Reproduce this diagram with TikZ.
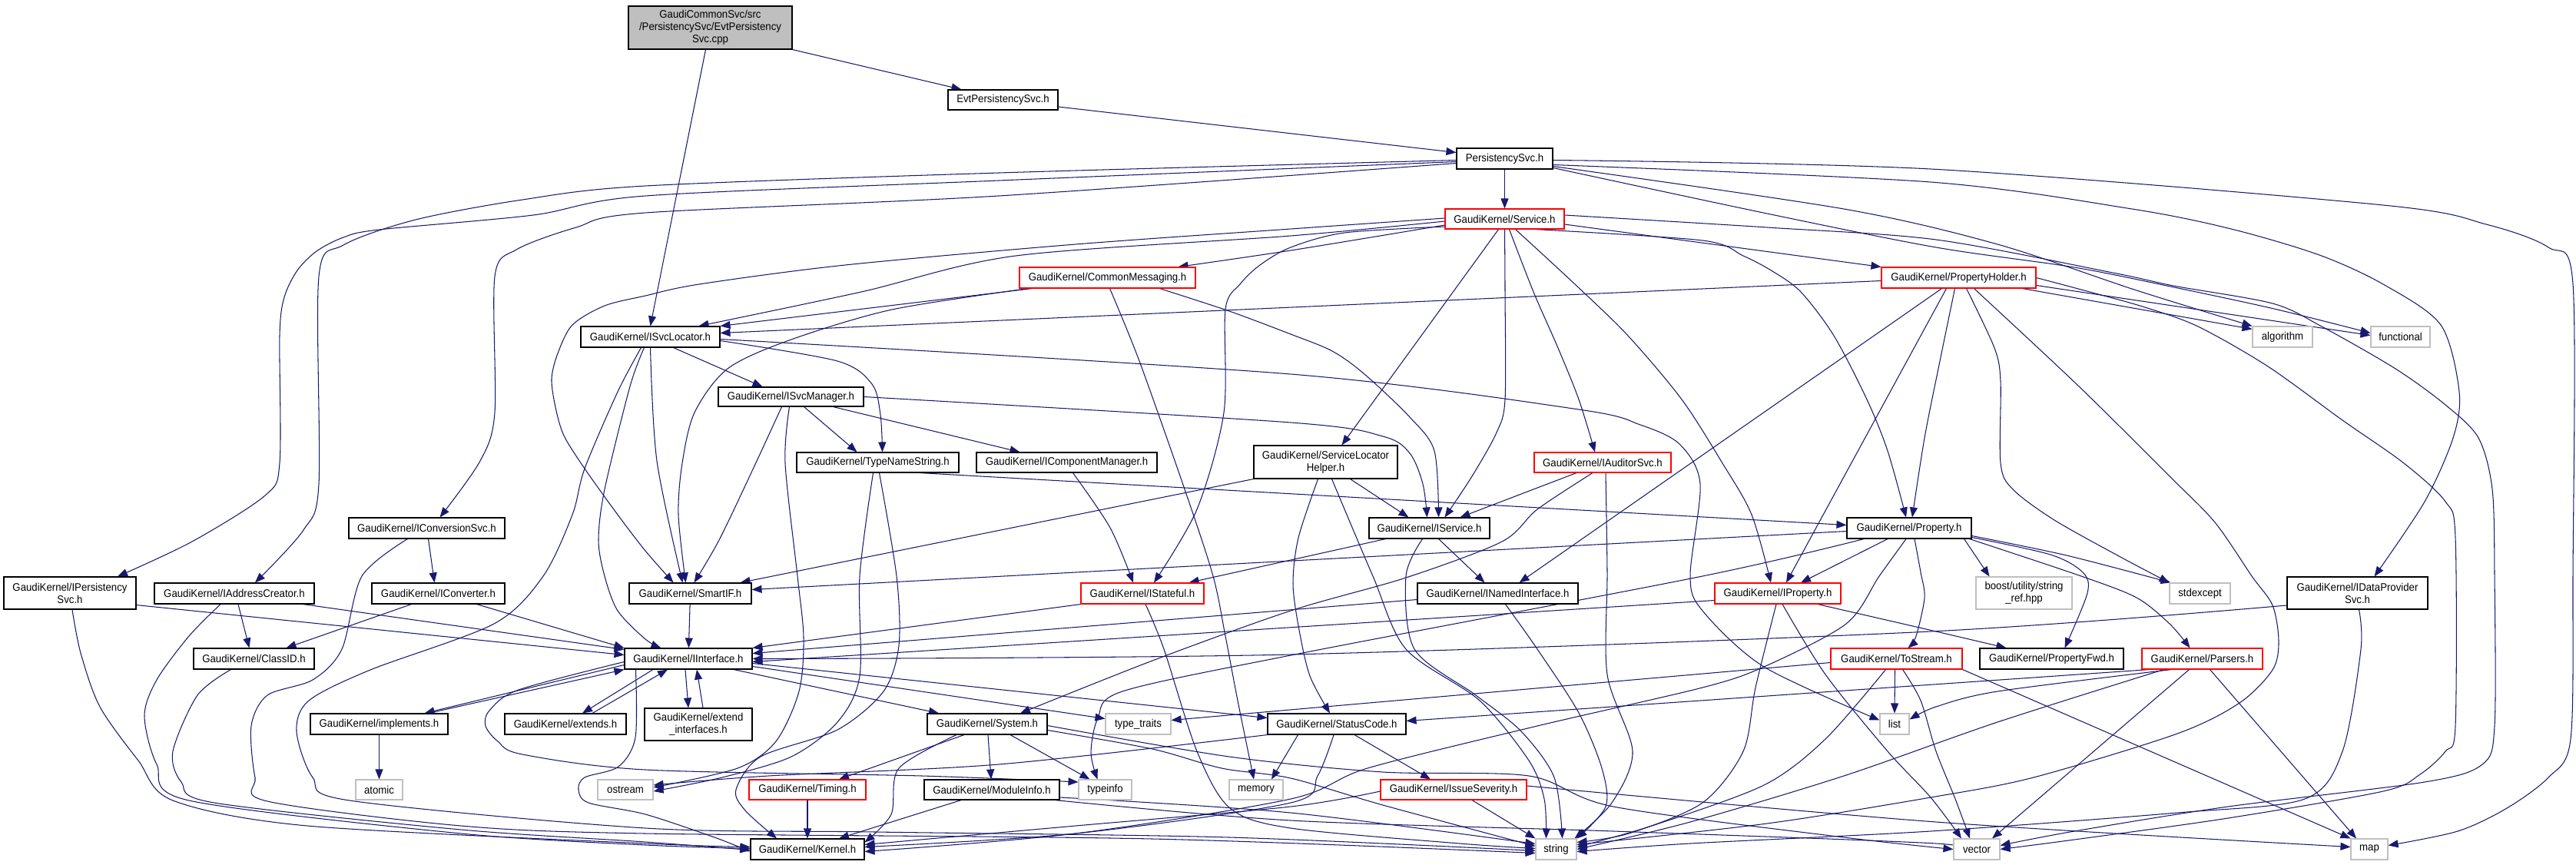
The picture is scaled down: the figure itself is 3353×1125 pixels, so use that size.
\documentclass[tikz,border=0pt]{standalone}
\usepackage{fontspec}
\setmainfont[FakeStretch=0.93]{Liberation Sans}
\usetikzlibrary{arrows.meta}
\definecolor{edgec}{HTML}{191970}
\definecolor{grayb}{HTML}{BFBFBF}
\newcommand{\lbl}{\fontsize{14.2}{16}\selectfont}
\newcommand{\mknode}[7]{\node[#6, minimum width={(#4-#2)*1pt}, minimum height={(#5-#3)*1pt}] (#1) at ({(#2+#4)/2},{(#3+#5)/2}) {#7};}
\pgfdeclarelayer{bglayer}
\pgfdeclarelayer{edgelayer}
\pgfsetlayers{bglayer,edgelayer,main}
\tikzset{
  nb/.style={draw=black, line width=1.1pt, fill=white, inner sep=0pt, align=center, font=\lbl, text=black},
  rb/.style={nb, draw=red},
  gb/.style={nb, draw=grayb},
  rootb/.style={nb, fill=grayb},
  edg/.style={draw=edgec, line width=1.05pt, -{Triangle[length=13pt,width=10pt]}},
}
\begin{document}
\begin{tikzpicture}[x=1pt,y=-1pt]
\useasboundingbox (0,0) rectangle (3353,1125);
\begin{pgfonlayer}{bglayer}
\fill[white] (0,0) rectangle (3353,1125);
\end{pgfonlayer}
% ---------------- nodes ----------------
\mknode{root}{818}{8}{1031}{64}{rootb}{GaudiCommonSvc/src\\/PersistencySvc/EvtPersistency\\Svc.cpp}
\mknode{evt}{1234}{117}{1377}{143}{nb}{EvtPersistencySvc.h}
\mknode{pers}{1896}{193}{2021}{220}{nb}{PersistencySvc.h}
\mknode{service}{1881}{272}{2036}{298}{rb}{GaudiKernel/Service.h}
\mknode{cmsg}{1327}{348}{1556}{375}{rb}{GaudiKernel/CommonMessaging.h}
\mknode{pholder}{2449}{348}{2650}{375}{rb}{GaudiKernel/PropertyHolder.h}
\mknode{isvcloc}{756}{425}{937}{452}{nb}{GaudiKernel/ISvcLocator.h}
\mknode{algorithm}{2932}{425}{3010}{452}{gb}{algorithm}
\mknode{functional}{3086}{425}{3163}{452}{gb}{functional}
\mknode{isvcmgr}{935}{504}{1124}{529}{nb}{GaudiKernel/ISvcManager.h}
\mknode{typename}{1037}{589}{1248}{615}{nb}{GaudiKernel/TypeNameString.h}
\mknode{icompmgr}{1271}{589}{1506}{615}{nb}{GaudiKernel/IComponentManager.h}
\mknode{slh}{1632}{580}{1819}{623}{nb}{GaudiKernel/ServiceLocator\\Helper.h}
\mknode{iauditor}{1997}{589}{2175}{615}{rb}{GaudiKernel/IAuditorSvc.h}
\mknode{iconvsvc}{454}{674}{657}{701}{nb}{GaudiKernel/IConversionSvc.h}
\mknode{iservice}{1782}{674}{1939}{701}{nb}{GaudiKernel/IService.h}
\mknode{property}{2404}{674}{2566}{701}{nb}{GaudiKernel/Property.h}
\mknode{ipersist}{5}{751}{177}{793}{nb}{GaudiKernel/IPersistency\\Svc.h}
\mknode{iaddr}{201}{759}{409}{786}{nb}{GaudiKernel/IAddressCreator.h}
\mknode{iconv}{484}{759}{657}{786}{nb}{GaudiKernel/IConverter.h}
\mknode{smartif}{819}{759}{978}{786}{nb}{GaudiKernel/SmartIF.h}
\mknode{istateful}{1407}{759}{1567}{786}{rb}{GaudiKernel/IStateful.h}
\mknode{inamed}{1845}{759}{2054}{786}{nb}{GaudiKernel/INamedInterface.h}
\mknode{iproperty}{2232}{759}{2396}{786}{rb}{GaudiKernel/IProperty.h}
\mknode{boostref}{2572}{751}{2697}{793}{gb}{boost/utility/string\\\_ref.hpp}
\mknode{stdexcept}{2824}{759}{2903}{786}{gb}{stdexcept}
\mknode{idataprov}{2977}{751}{3160}{793}{nb}{GaudiKernel/IDataProvider\\Svc.h}
\mknode{classid}{252}{844}{409}{871}{nb}{GaudiKernel/ClassID.h}
\mknode{iinterface}{813}{844}{979}{871}{nb}{GaudiKernel/IInterface.h}
\mknode{tostream}{2383}{844}{2554}{871}{rb}{GaudiKernel/ToStream.h}
\mknode{propfwd}{2577}{844}{2764}{871}{nb}{GaudiKernel/PropertyFwd.h}
\mknode{parsers}{2788}{844}{2945}{871}{rb}{GaudiKernel/Parsers.h}
\mknode{implements}{404}{929}{583}{956}{nb}{GaudiKernel/implements.h}
\mknode{extends}{657}{929}{815}{956}{nb}{GaudiKernel/extends.h}
\mknode{extendif}{839}{922}{979}{964}{nb}{GaudiKernel/extend\\\_interfaces.h}
\mknode{system}{1207}{929}{1363}{956}{nb}{GaudiKernel/System.h}
\mknode{typetraits}{1439}{929}{1524}{956}{gb}{type\_traits}
\mknode{statuscode}{1650}{929}{1830}{956}{nb}{GaudiKernel/StatusCode.h}
\mknode{list}{2447}{929}{2485}{956}{gb}{list}
\mknode{atomic}{463}{1015}{524}{1041}{gb}{atomic}
\mknode{ostream}{778}{1015}{850}{1041}{gb}{ostream}
\mknode{timing}{975}{1015}{1127}{1041}{rb}{GaudiKernel/Timing.h}
\mknode{moduleinfo}{1203}{1015}{1379}{1041}{nb}{GaudiKernel/ModuleInfo.h}
\mknode{typeinfo}{1404}{1015}{1473}{1041}{gb}{typeinfo}
\mknode{memory}{1600}{1015}{1670}{1041}{gb}{memory}
\mknode{issev}{1797}{1015}{1987}{1041}{rb}{GaudiKernel/IssueSeverity.h}
\mknode{kernel}{977}{1092}{1125}{1119}{nb}{GaudiKernel/Kernel.h}
\mknode{string}{1999}{1092}{2052}{1119}{gb}{string}
\mknode{vector}{2543}{1092}{2603}{1119}{gb}{vector}
\mknode{map}{3060}{1092}{3108}{1119}{gb}{map}
% ---------------- edges ----------------
\begin{pgfonlayer}{edgelayer}
\draw[edg] (root.south east) -- ([xshift=18pt]evt.north west);
\draw[edg] ([xshift=-6pt]root.south) -- (isvcloc.north);
\draw[edg] ([yshift=-9pt]evt.east) -- ([yshift=8pt]pers.west);
\draw[edg] (pers) -- (service);
\draw[edg] plot[smooth] coordinates {([yshift=-2pt]pers.west) (1300,225) (840,242) (680,260) (541,286) (447,319) (415,360) (415,630) (395,690) ([xshift=27pt]iaddr.north)};
\draw[edg] plot[smooth] coordinates {([yshift=-4pt]pers.west) (1300,235) (840,255) (694,280) (493,299) (447,309) (412,327) (387,352) (370,387) (364,437) (364,603) (345,645) (250,705) ([xshift=62pt]ipersist.north)};
\draw[edg] plot[smooth] coordinates {([yshift=-6pt]pers.west) (1300,255) (840,277) (750,296) (672,325) (644,360) (644,537) (625,600) ([xshift=17pt]iconvsvc.north)};
\draw[edg] plot[smooth] coordinates {([yshift=-8pt]pers.east) (2513,237) (2775,272) (2904,298) (3019,332) (3102,370) (3177,423) (3201,510) (3193,570) (3156,653) ([xshift=22pt]idataprov.north)};
\draw[edg] plot[smooth] coordinates {([yshift=-2pt]pers.east) (2513,220) (3102,267) (3236,292) (3317,322) (3349,370) (3349,745) (3346,962) (3317,1012) (3263,1052) (3199,1082) ([yshift=5pt]map.east)};
\draw[edg] plot[smooth] coordinates {([yshift=-10pt]pers.east) (2400,272) (2600,318) (2781,378) (algorithm.north west)};
\draw[edg] plot[smooth] coordinates {([yshift=-12pt]pers.east) (2300,278) (2520,322) (2700,348) (2830,374) (2960,402) ([yshift=5pt]functional.west)};
% Service.h
\draw[edg] plot[smooth] coordinates {([yshift=-8pt]service.west) (1680,326) ([xshift=92pt]cmsg.north)};
\draw[edg] plot[smooth] coordinates {([yshift=-3pt]service.west) (1680,307) (1322,333) (1121,380) ([xshift=63pt]isvcloc.north)};
\draw[edg] plot[smooth] coordinates {([yshift=1pt]service.west) (1680,298) (1400,318) (1100,345) (910,370) (840,385) (787,398) (745,423) (726,460) (718,493) (723,530) (734,567) (761,610) (804,670) (840,717) ([xshift=-22pt]smartif.north)};
\draw[edg] ([xshift=-8pt]service.south) -- ([xshift=21pt]slh.north);
\draw[edg] plot[smooth] coordinates {(service.south) (1959,380) (1959,520) (1948,563) (1916,620) ([xshift=20pt]iservice.north)};
\draw[edg] plot[smooth] coordinates {([xshift=6pt]service.south) (1996,380) (2028,453) (2055,520) ([xshift=-10pt]iauditor.north)};
\draw[edg] plot[smooth] coordinates {([xshift=14pt]service.south) (2050,370) (2119,437) (2189,520) (2242,603) (2280,670) ([xshift=-9pt]iproperty.north)};
\draw[edg] plot[smooth] coordinates {([xshift=40pt]service.south) (2216,313) (2269,333) (2307,353) (2344,380) (2387,437) (2430,520) (2457,587) ([xshift=-4pt]property.north)};
\draw[edg] ([yshift=-7pt]service.east) -- (pholder.north west);
\draw[edg] plot[smooth] coordinates {([yshift=-10pt]service.west) (1750,303) (1680,322) (1640,345) (1614,370) (1595,403) (1593,537) (1558,663) ([xshift=15pt]istateful.north)};
\draw[edg] plot[smooth] coordinates {([yshift=5pt]service.east) (2300,296) (2520,312) (2750,355) (2829,372) (2958,395) (3022,425) (3118,480) (3183,527) (3226,570) (3244,637) (3247,750) (3247,945) (3231,995) (3156,1018) (2900,1050) (2700,1082) ([yshift=5pt]vector.east)};
% CommonMessaging.h
\draw[edg] ([xshift=17pt]cmsg.south west) -- (isvcloc.north east);
\draw[edg] plot[smooth] coordinates {([xshift=12pt]cmsg.south west) (1161,403) (1027,443) (947,480) (904,537) (888,603) (883,670) ([xshift=-6pt]smartif.north)};
\draw[edg] plot[smooth] coordinates {([xshift=68pt]cmsg.south) (1600,405) (1680,435) (1734,457) (1776,487) (1835,543) (1867,587) ([xshift=12pt]iservice.north)};
\draw[edg] plot[smooth] coordinates {([xshift=3pt]cmsg.south) (1483,470) (1542,637) (1579,750) (1595,828) (1611,912) ([xshift=-3pt]memory.north)};
% PropertyHolder.h
\draw[edg] ([yshift=-4pt]pholder.west) -- ([yshift=5pt]isvcloc.east);
\draw[edg] ([xshift=-18pt]pholder.south east) -- ([yshift=-4pt]algorithm.north west);
\draw[edg] ([yshift=-10pt]pholder.east) -- ([yshift=2pt]functional.west);
\draw[edg] plot[smooth] coordinates {([xshift=10pt]pholder.south) (2596,453) (2604,497) (2604,603) (2620,637) (2674,677) (2760,725) (stdexcept.north west)};
\draw[edg] plot[smooth] coordinates {([xshift=-5pt]pholder.south) (2525,470) (2505,570) ([xshift=4pt]property.north)};
\draw[edg] ([xshift=-16pt]pholder.south) -- ([xshift=11pt]iproperty.north);
\draw[edg] ([xshift=-22pt]pholder.south) -- ([xshift=28pt]inamed.north);
\draw[edg] plot[smooth] coordinates {([xshift=20pt]pholder.south) (2706,503) (2824,620) (2883,680) (2931,750) (2958,788) (2966,835) (2958,872) (2915,915) (2834,955) (2647,1012) (2513,1038) (2300,1072) ([yshift=6pt]string.east)};
\draw[edg] plot[smooth] coordinates {(pholder.east) (2720,380) (2792,400) (2861,425) (2952,477) (3049,547) (3129,603) (3183,653) (3196,700) (3196,945) (3183,978) (3150,1008) (3102,1030) (2900,1065) (2700,1093) (vector.east)};
% ISvcLocator.h
\draw[edg] ([xshift=30pt]isvcloc.south) -- ([xshift=-37pt]isvcmgr.north);
\draw[edg] plot[smooth] coordinates {([yshift=-5pt]isvcloc.east) (1090,470) (1135,500) (1146,540) ([xshift=6pt]typename.north)};
\draw[edg] plot[smooth] coordinates {(isvcloc.south) (855,600) ([xshift=-10pt]smartif.north)};
\draw[edg] plot[smooth] coordinates {([xshift=-8pt]isvcloc.south) (820,503) (787,637) (779,703) (787,750) (804,795) (840,832) ([xshift=48pt]iinterface.north west)};
\draw[edg] plot[smooth] coordinates {([xshift=-12pt]isvcloc.south) (804,510) (761,610) (745,670) (707,750) (643,812) (482,872) (402,912) (386,952) (407,1012) (455,1042) (840,1078) (1140,1083) (1600,1090) ([yshift=-2pt]string.west)};
\draw[edg] plot[smooth] coordinates {([yshift=-3pt]isvcloc.east) (1680,487) (2055,533) (2135,553) (2186,578) (2213,630) (2200,750) (2216,795) (2296,868) ([yshift=5pt]list.west)};
% ISvcManager.h
\draw[edg] ([xshift=17pt]isvcmgr.south) -- ([xshift=-27pt]typename.north);
\draw[edg] ([xshift=55pt]isvcmgr.south) -- ([xshift=-61pt]icompmgr.north);
\draw[edg] plot[smooth] coordinates {(isvcmgr.east) (1680,550) (1800,568) (1835,590) (1852,630) ([xshift=-3pt]iservice.north)};
\draw[edg] plot[smooth] coordinates {([xshift=-12pt]isvcmgr.south) (979,613) (936,703) ([xshift=5pt]smartif.north)};
\draw[edg] plot[smooth] coordinates {([xshift=-2pt]isvcmgr.south) (1022,603) (1038,750) (1046,830) (1040,900) (1010,965) (960,1000) ([yshift=3pt]ostream.east)};
% TypeNameString.h
\draw[edg] plot[smooth] coordinates {([xshift=-6pt]typename.south) (1119,750) (1119,880) (1090,940) (1030,985) (940,1012) ([yshift=-2pt]ostream.east)};
\draw[edg] plot[smooth] coordinates {([xshift=2pt]typename.south) (1167,750) (1170,840) (1150,900) (1090,950) (990,985) (958,1028) (970,1055) ([xshift=-40pt]kernel.north)};
\draw[edg] ([xshift=55pt]typename.south) -- ([yshift=4pt]property.west);
% IComponentManager.h
\draw[edg] plot[smooth] coordinates {([xshift=8pt]icompmgr.south) (1445,687) ([xshift=-12pt]istateful.north)};
% ServiceLocatorHelper.h
\draw[edg] ([xshift=32pt]slh.south) -- ([xshift=-27pt]iservice.north);
\draw[edg] (slh.south west) -- ([xshift=-15pt]smartif.north east);
\draw[edg] plot[smooth] coordinates {([xshift=-10pt]slh.south) (1690,700) (1683,760) (1691,820) (1705,880) ([xshift=-9pt]statuscode.north)};
\draw[edg] plot[smooth] coordinates {([xshift=8pt]slh.south) (1787,750) (1830,845) (1926,912) (1990,990) (2010,1040) ([xshift=-13pt]string.north)};
% IAuditorSvc.h
\draw[edg] ([xshift=-34pt]iauditor.south) -- ([xshift=40pt]iservice.north);
\draw[edg] plot[smooth] coordinates {([xshift=-13pt]iauditor.south) (2001,663) (1955,705) (1830,752) (1680,795) (1500,860) ([xshift=43pt]system.north)};
\draw[edg] plot[smooth] coordinates {([xshift=4pt]iauditor.south) (2092,745) (2092,878) (2125,978) (2098,1045) ([xshift=24pt]string.north)};
% IService.h
\draw[edg] ([xshift=-57pt]iservice.south) -- ([xshift=-20pt]istateful.north east);
\draw[edg] ([xshift=12pt]iservice.south) -- ([xshift=-17pt]inamed.north);
\draw[edg] plot[smooth] coordinates {([xshift=-9pt]iservice.south) (1830,750) (1841,845) (1921,905) (1980,952) (2023,1012) ([xshift=8pt]string.north)};
% Property.h
\draw[edg] ([xshift=-28pt]property.south) -- ([xshift=30pt]iproperty.north);
\draw[edg] ([yshift=-4pt]property.west) -- ([yshift=5pt]smartif.east);
\draw[edg] plot[smooth] coordinates {([xshift=7pt]property.south) (2500,745) (2505,778) (2494,828) ([xshift=15pt]tostream.north)};
\draw[edg] ([xshift=-10pt]property.south east) -- ([xshift=-45pt]boostref.north);
\draw[edg] plot[smooth] coordinates {([yshift=-10pt]property.east) (2690,723) ([xshift=2pt]stdexcept.north west)};
\draw[edg] plot[smooth] coordinates {([yshift=-12pt]property.east) (2669,722) (2711,745) (2717,772) ([xshift=17pt]propfwd.north)};
\draw[edg] plot[smooth] coordinates {([xshift=-3pt]property.south east) (2709,750) (2781,778) (2824,812) ([xshift=-16pt]parsers.north)};
\draw[edg] plot[smooth] coordinates {([xshift=-59pt]property.south) (2216,750) (1680,853) (1461,900) (1429,935) (1420,980) ([xshift=-10pt]typeinfo.north)};
\draw[edg] plot[smooth] coordinates {([xshift=-4pt]property.south) (2446,750) (2403,812) (2296,868) (2216,895) (2001,945) (1780,1000) (1680,1040) (1400,1085) ([yshift=-3pt]kernel.east)};
% IProperty.h
\draw[edg] ([yshift=-9pt]iproperty.west) -- ([yshift=-4pt]iinterface.east);
\draw[edg] plot[smooth] coordinates {([xshift=52pt]iproperty.south) (2520,822) ([xshift=35pt]propfwd.north west)};
\draw[edg] plot[smooth] coordinates {([xshift=-2pt]iproperty.south) (2285,895) (2269,978) (2216,1045) (2120,1085) ([yshift=9pt]string.east)};
\draw[edg] plot[smooth] coordinates {([xshift=6pt]iproperty.south) (2376,878) (2457,978) (2513,1038) ([xshift=-20pt]vector.north)};
% ToStream.h
\draw[edg] ([yshift=-5pt]tostream.west) -- ([yshift=5pt]typetraits.east);
\draw[edg] ([xshift=-2pt]tostream.south) -- (list.north);
\draw[edg] plot[smooth] coordinates {([xshift=-14pt]tostream.south) (2376,962) (2296,1022) (2150,1075) ([yshift=3pt]string.east)};
\draw[edg] plot[smooth] coordinates {([xshift=8pt]tostream.south) (2500,912) (2520,978) (2545,1040) ([xshift=-9pt]vector.north)};
\draw[edg] (tostream.south east) -- (map.north west);
% Parsers.h
\draw[edg] ([xshift=10pt]parsers.south west) -- ([yshift=4pt]statuscode.east);
\draw[edg] plot[smooth] coordinates {([xshift=-40pt]parsers.south) (2600,900) (2520,920) ([yshift=6pt]list.east)};
\draw[edg] ([xshift=-17pt]parsers.south) -- ([xshift=20pt]vector.north);
\draw[edg] ([xshift=10pt]parsers.south) -- ([xshift=-17pt]map.north);
\draw[edg] plot[smooth] coordinates {([xshift=-50pt]parsers.south) (2600,940) (2400,1010) (2200,1070) (string.east)};
% IDataProviderSvc.h
\draw[edg] plot[smooth] coordinates {([yshift=-16pt]idataprov.west) (2513,822) (1680,852) (iinterface.east)};
\draw[edg] plot[smooth] coordinates {([xshift=2pt]idataprov.south) (3073,845) (3049,978) (3000,1040) (2834,1058) (2513,1082) (2200,1098) ([yshift=-3pt]string.east)};
% INamedInterface.h / IStateful.h
\draw[edg] ([yshift=-8pt]inamed.west) -- ([yshift=7pt]iinterface.east);
\draw[edg] plot[smooth] coordinates {([xshift=10pt]inamed.south) (2001,845) (2055,928) (2085,1000) (2090,1050) (string.north east)};
\draw[edg] (istateful.south west) -- (iinterface.north east);
\draw[edg] plot[smooth] coordinates {([xshift=4pt]istateful.south) (1515,845) (1558,978) (1601,1052) (1680,1078) (1900,1098) ([yshift=1pt]string.west)};
% left side
\draw[edg] ([yshift=6pt]ipersist.south east) -- ([yshift=5pt]iinterface.west);
\draw[edg] plot[smooth] coordinates {([xshift=3pt]ipersist.south) (105,850) (130,920) (180,990) (225,1042) (400,1075) (840,1098) ([yshift=3pt]kernel.west)};
\draw[edg] ([xshift=5pt]iaddr.south) -- ([xshift=-6pt]classid.north);
\draw[edg] ([xshift=-15pt]iaddr.south east) -- ([yshift=12pt]iinterface.west);
\draw[edg] plot[smooth] coordinates {([xshift=-18pt]iaddr.south) (246,828) (204,885) (188,932) (204,995) (246,1042) (600,1085) (840,1100) ([yshift=1pt]kernel.west)};
\draw[edg] plot[smooth] coordinates {([xshift=-30pt]classid.south) (257,905) (225,978) (236,1018) (279,1045) (600,1080) (840,1096) ([yshift=-1pt]kernel.west)};
\draw[edg] ([xshift=2pt]iconvsvc.south) -- ([xshift=-5pt]iconv.north);
\draw[edg] plot[smooth] coordinates {([xshift=-25pt]iconvsvc.south) (471,750) (445,845) (407,885) (348,905) (327,945) (332,1012) (348,1043) (600,1075) (840,1085) (1500,1092) ([yshift=-5pt]string.west)};
\draw[edg] ([xshift=-35pt]iconv.south) -- ([xshift=42pt]classid.north);
\draw[edg] ([xshift=50pt]iconv.south) -- (iinterface.north west);
\draw[edg] (smartif) -- (iinterface);
% IInterface.h
\draw[edg] plot[smooth] coordinates {([xshift=15pt]iinterface.south west) (827,960) (805,998) (761,1012) (753,1028) (766,1045) (840,1060) (930,1090) ([yshift=-3pt]kernel.west)};
\draw[edg] plot[smooth] coordinates {([yshift=-4pt]iinterface.west) (675,898) (637,925) (632,945) (648,965) (680,982) (840,1002) (1200,1010) ([yshift=10pt]typeinfo.west)};
\draw[edg] ([yshift=-8pt]iinterface.west) -- ([xshift=-31pt]implements.north east);
\draw[edg] ([xshift=-26pt]implements.north east) -- (iinterface.south west);
\draw[edg] ([xshift=-46pt]iinterface.south) -- ([xshift=22pt]extends.north);
\draw[edg] ([xshift=35pt]extends.north) -- ([xshift=-27pt]iinterface.south);
\draw[edg] ([xshift=-4pt]iinterface.south) -- ([xshift=-13pt]extendif.north);
\draw[edg] ([xshift=6pt]extendif.north) -- ([xshift=11pt]iinterface.south);
\draw[edg] ([xshift=59pt]iinterface.south) -- ([xshift=-63pt]system.north);
\draw[edg] ([yshift=-10pt]iinterface.east) -- ([yshift=7pt]typetraits.west);
\draw[edg] ([yshift=-6pt]iinterface.east) -- ([yshift=8pt]statuscode.west);
\draw[edg] (implements) -- (atomic);
% System.h
\draw[edg] ([xshift=-30pt]system.south) -- ([xshift=41pt]timing.north);
\draw[edg] (system) -- (moduleinfo);
\draw[edg] ([xshift=30pt]system.south) -- ([xshift=-20pt]typeinfo.north);
\draw[edg] plot[smooth] coordinates {([xshift=-40pt]system.south) (1170,1000) (1160,1060) ([yshift=9pt]kernel.east)};
\draw[edg] plot[smooth] coordinates {([yshift=-8pt]system.east) (1500,975) (1590,1000) (1680,1013) (1800,1048) ([yshift=4pt]string.west)};
\draw[edg] plot[smooth] coordinates {([yshift=-2pt]system.east) (1600,985) (1800,1005) (1990,1010) (2100,1050) (2400,1090) (vector.west)};
% StatusCode.h
\draw[edg] ([xshift=23pt]statuscode.south) -- ([xshift=-30pt]issev.north);
\draw[edg] plot[smooth] coordinates {(statuscode.south west) (1300,995) (1000,1010) ([yshift=6pt]ostream.east)};
\draw[edg] plot[smooth] coordinates {([xshift=-4pt]statuscode.south) (1715,1010) (1680,1045) (1400,1085) ([yshift=3pt]kernel.east)};
\draw[edg] ([xshift=40pt]statuscode.south west) -- ([xshift=20pt]memory.north);
% IssueSeverity.h
\draw[edg] plot[smooth] coordinates {([yshift=-2pt]issev.west) (1680,1050) (1400,1075) ([yshift=6pt]kernel.east)};
\draw[edg] ([xshift=24pt]issev.south) -- (string.north west);
\draw[edg] plot[smooth] coordinates {([yshift=5pt]issev.east) (2520,1070) ([yshift=3pt]map.west)};
% Timing / ModuleInfo
\draw[edg] (timing) -- (kernel);
\draw[edg] ([xshift=-40pt]moduleinfo.south) -- ([xshift=41pt]kernel.north);
\draw[edg] plot[smooth] coordinates {([yshift=-10pt]moduleinfo.east) (1680,1058) ([yshift=7pt]string.west)};
\draw[edg] plot[smooth] coordinates {([xshift=-6pt]moduleinfo.south east) (1680,1068) (2100,1082) (2520,1098) ([yshift=-3pt]vector.west)};
\end{pgfonlayer}
\end{tikzpicture}
\end{document}
